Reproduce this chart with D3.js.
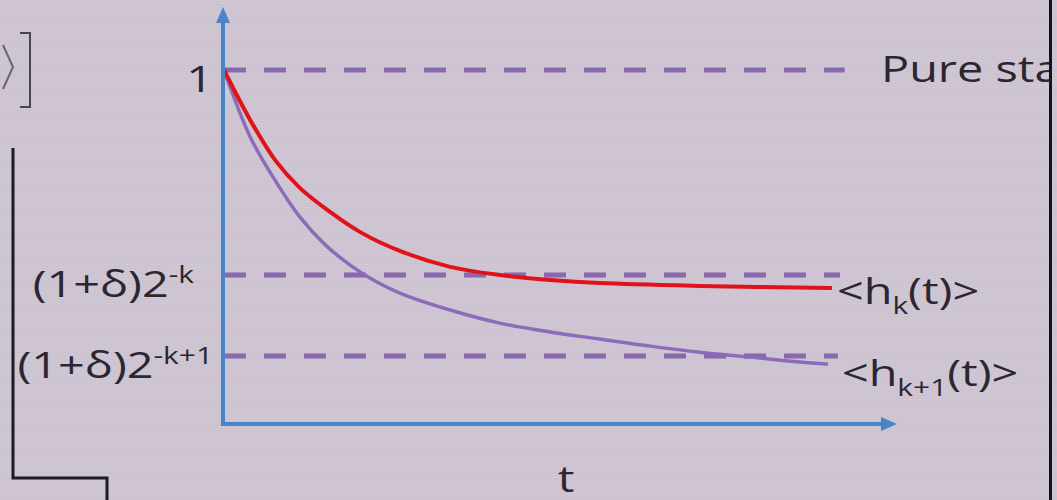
<!DOCTYPE html>
<html>
<head>
<script src="https://d3js.org/d3.v7.min.js"></script>
<style>
	body { margin: 0; background: #cdc3d1; }
	svg { display: block; }
	.lbl { font-family: "Open Sans", sans-serif; fill: #2b2630; font-size: 36px; }
</style>
</head>
<body>
<div id="chart"></div>
<script>
	var width = 1057, height = 500;

	// curve samples (t in % of axis, h relative to the pure state)
	var tRed = [0, 3.9, 7.6, 11.3, 15.8, 20.3, 26.2, 33.7, 41.1, 48.6, 56.0, 70.9, 90.6];
	var hRed = [1.000, 0.859, 0.746, 0.667, 0.599, 0.542, 0.489, 0.444, 0.421, 0.407, 0.398, 0.390, 0.384];
	var tPurple = [0, 3.9, 7.6, 11.3, 15.1, 18.8, 22.5, 26.2, 33.7, 41.1, 48.6, 56.0, 63.5, 70.9, 78.4, 85.8, 90.0];
	var hPurple = [1.000, 0.811, 0.689, 0.585, 0.506, 0.449, 0.404, 0.370, 0.322, 0.285, 0.260, 0.240, 0.220, 0.203, 0.189, 0.175, 0.169];

	// dashed reference levels
	var levels = [1, 0.421, 0.192];
	var levelEnds = [92.5, 91.8, 91.5];
	var levelBase = ["1", "(1+\u03B4)2", "(1+\u03B4)2"];
	var levelSup = ["", "-k", "-k+1"];

	var curveSub = ["k", "k+1"];

	var x = d3.scaleLinear().domain([0, 100]).range([224, 895]);
	var y = d3.scaleLinear().domain([0, 1]).range([424, 70]);

	var svg = d3.select("#chart").append("svg")
		.attr("width", width)
		.attr("height", height);

	// faint scan lines of the photo
	var pat = svg.append("defs").append("pattern")
		.attr("id", "scan").attr("width", 8).attr("height", 3)
		.attr("patternUnits", "userSpaceOnUse");
	pat.append("rect").attr("width", 8).attr("height", 1).attr("fill", "#fff").attr("opacity", 0.06);
	svg.append("rect").attr("width", width).attr("height", height).attr("fill", "#cdc3d1");
	svg.append("rect").attr("width", width).attr("height", height).attr("fill", "url(#scan)");

	svg.select("defs").append("clipPath").attr("id", "clip")
		.append("rect").attr("width", 1049).attr("height", height);

	var g = svg.append("g").attr("clip-path", "url(#clip)");

	// left-side remnants of the slide
	g.append("path")
		.attr("d", "M13,148 V478 H107 V500")
		.attr("fill", "none").attr("stroke", "#1e1a22").attr("stroke-width", 3);
	g.append("path")
		.attr("d", "M20,33 H30 V107 H20")
		.attr("fill", "none").attr("stroke", "#4a4550").attr("stroke-width", 2);
	g.append("path")
		.attr("d", "M3,45 L13,67 L3,89")
		.attr("fill", "none").attr("stroke", "#6a6570").attr("stroke-width", 2);

	// dashed levels
	g.selectAll(".level")
		.data(levels)
		.enter().append("line")
		.attr("class", "level")
		.attr("x1", x(0)).attr("x2", function(d, i) { return x(levelEnds[i]); })
		.attr("y1", function(d) { return y(d); }).attr("y2", function(d) { return y(d); })
		.attr("stroke", "#8a68b0").attr("stroke-width", 5)
		.attr("stroke-dasharray", "22,18");

	var line = d3.line()
		.x(function(d) { return x(d[0]); })
		.y(function(d) { return y(d[1]); })
		.curve(d3.curveCatmullRom.alpha(0.5));

	g.append("path")
		.datum(d3.zip(tPurple, hPurple))
		.attr("d", line)
		.attr("fill", "none").attr("stroke", "#8a6cb8").attr("stroke-width", 3.5);

	g.append("path")
		.datum(d3.zip(tRed, hRed))
		.attr("d", line)
		.attr("fill", "none").attr("stroke", "#e0121c").attr("stroke-width", 4);

	// axes with arrowheads
	var axisColor = "#4a84c8";
	g.append("line")
		.attr("x1", x(0) - 1).attr("x2", x(0) - 1)
		.attr("y1", y(0) + 2).attr("y2", 20)
		.attr("stroke", axisColor).attr("stroke-width", 4);
	g.append("path")
		.attr("d", "M" + (x(0) - 1) + ",7 L" + (x(0) - 8) + ",23 L" + (x(0) + 6) + ",23 Z")
		.attr("fill", axisColor);
	g.append("line")
		.attr("x1", x(0) - 3).attr("x2", x(100) - 12)
		.attr("y1", y(0)).attr("y2", y(0))
		.attr("stroke", axisColor).attr("stroke-width", 4);
	g.append("path")
		.attr("d", "M" + (x(100) + 2) + "," + y(0) + " L" + (x(100) - 14) + "," + (y(0) - 7) + " L" + (x(100) - 14) + "," + (y(0) + 7) + " Z")
		.attr("fill", axisColor);

	var sx = 1.3;

	// level labels on the left
	levels.forEach(function(v, i) {
		var anchorX = i == 1 ? 194 : 213;
		var t = g.append("text")
			.attr("class", "lbl")
			.attr("text-anchor", "end")
			.attr("transform", "translate(" + anchorX + "," + (y(v) + 22) + ") scale(" + sx + ",1)");
		t.append("tspan").text(levelBase[i]);
		if (levelSup[i]) {
			t.append("tspan").attr("dy", -14).style("font-size", "23px").text(levelSup[i]);
		}
	});

	// pure state label
	g.append("text")
		.attr("class", "lbl")
		.attr("transform", "translate(881," + (y(1) + 12) + ") scale(" + sx + ",1)")
		.text("Pure state");

	// curve end labels
	[hRed, hPurple].forEach(function(h, i) {
		var tt = i == 0 ? tRed : tPurple;
		var t = g.append("text")
			.attr("class", "lbl")
			.attr("transform", "translate(" + (x(tt[tt.length - 1]) + 5 + i * 9) + "," + (y(h[h.length - 1]) + 16 + i * 6) + ") scale(" + sx + ",1)");
		t.append("tspan").text("<h");
		t.append("tspan").attr("dy", 10).style("font-size", "23px").text(curveSub[i]);
		t.append("tspan").attr("dy", -10).text("(t)>");
	});

	// axis title
	g.append("text")
		.attr("class", "lbl")
		.attr("transform", "translate(566,492) scale(" + sx + ",1)")
		.attr("text-anchor", "middle")
		.text("t");

	// dark edge on the right
	svg.append("rect").attr("x", 1049).attr("y", 0).attr("width", 3).attr("height", height).attr("fill", "#17131b");
</script>
</body>
</html>
